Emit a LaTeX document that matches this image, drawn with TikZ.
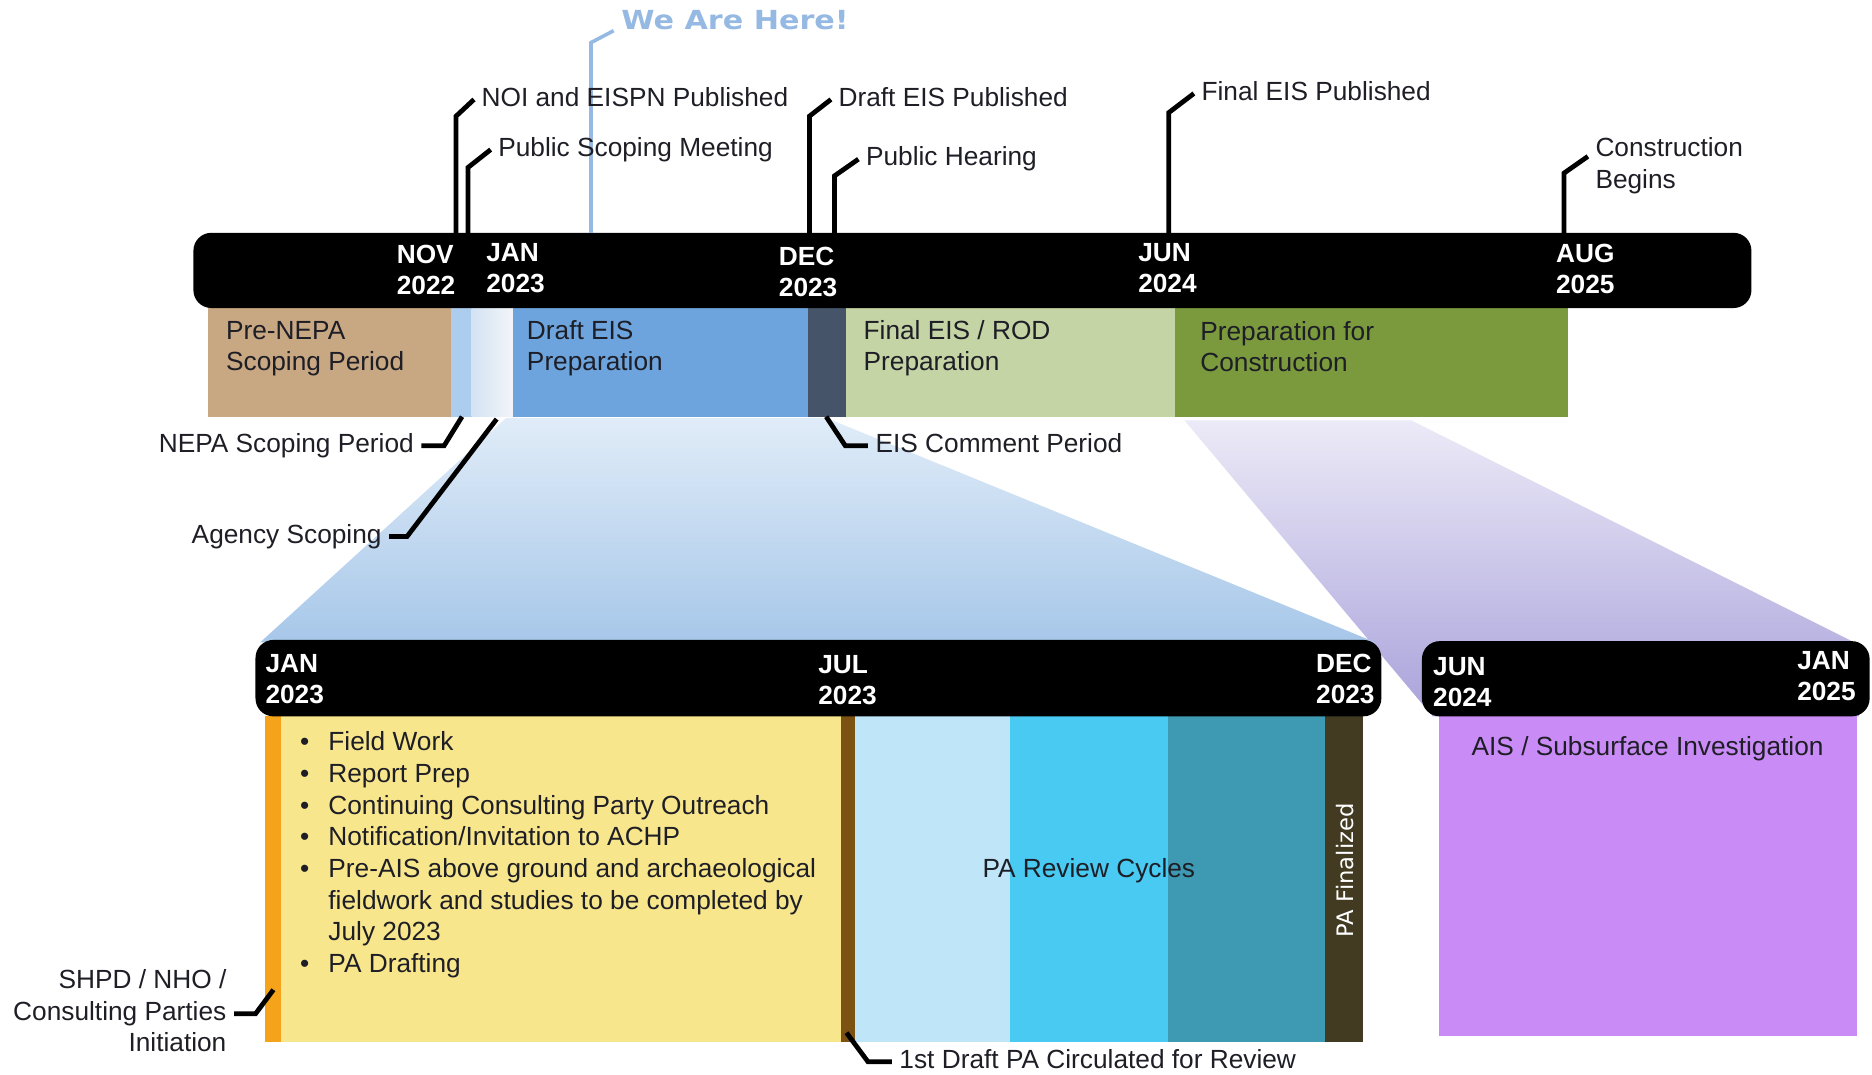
\documentclass[tikz,border=0pt]{standalone}
\usepackage{fontspec}
\setmainfont{Liberation Sans}
\newfontfamily\herefont{DejaVu Sans}[FakeStretch=1.15]
\newfontfamily\dvfont{DejaVu Sans}
\usetikzlibrary{calc}
\definecolor{tanc}{HTML}{C8A783}
\definecolor{nepac}{HTML}{ADCDEF}
\definecolor{agl}{HTML}{D3E3F3}
\definecolor{agr}{HTML}{F3F5F8}
\definecolor{draftc}{HTML}{6EA4DD}
\definecolor{commc}{HTML}{46546A}
\definecolor{finalc}{HTML}{C4D4A4}
\definecolor{prepc}{HTML}{7B9A3E}
\definecolor{bluetop}{HTML}{E0ECF8}
\definecolor{bluebot}{HTML}{A7C7E9}
\definecolor{purtop}{HTML}{ECEAF7}
\definecolor{purbot}{HTML}{A9A2DB}
\definecolor{orangec}{HTML}{F5A31A}
\definecolor{yellowc}{HTML}{F8E68C}
\definecolor{brownc}{HTML}{7B5212}
\definecolor{lbluec}{HTML}{BEE5F8}
\definecolor{cyanc}{HTML}{48CAF2}
\definecolor{tealc}{HTML}{3E9AB3}
\definecolor{olivec}{HTML}{423B22}
\definecolor{purplec}{HTML}{C98BF5}
\definecolor{herec}{HTML}{95B9E3}
\definecolor{txtc}{HTML}{1E1E26}
\newcommand\twoln[2]{\begin{tabular}[t]{@{}l@{}}#1\\#2\end{tabular}}
\newcommand\twolnr[3]{\begin{tabular}[t]{@{}r@{}}#1\\#2\\#3\end{tabular}}
\begin{document}
\begin{tikzpicture}[x=0.5pt,y=-0.5pt,
  leader/.style={line width=2pt, black},
  hereline/.style={line width=1.5pt, herec},
  lbl/.style={font=\fontsize{11}{13.25}\selectfont, text=txtc, inner xsep=3pt, inner ysep=0pt, text height=8pt, text depth=2.3pt},
  mlbl/.style={font=\fontsize{11}{13.25}\selectfont, text=txtc, inner xsep=3pt, inner ysep=0pt},
  datelbl/.style={font=\bfseries\fontsize{11}{13}\selectfont, text=white, inner sep=0pt, anchor=base west},
  barshape/.style={fill=black, rounded corners=7.5pt}]
\useasboundingbox (0,0) rectangle (1568,900.4);

% fans
\shade[top color=purtop, bottom color=purbot] (992,352) -- (1182,352) -- (1557,540) -- (1557,600) -- (1200,600) -- cycle;
\shade[top color=bluetop, bottom color=bluebot] (424,350) -- (692,350) -- (1152,538) -- (218,538) -- cycle;

% top row blocks
\fill[tanc] (174,258) rectangle (378,349);
\fill[nepac] (378,258) rectangle (395,349);
\shade[left color=agl, right color=agr] (395,258) rectangle (430,349);
\fill[draftc] (430,258) rectangle (677,349);
\fill[commc] (677,258) rectangle (709,349);
\fill[finalc] (709,258) rectangle (984,349);
\fill[prepc] (984,258) rectangle (1313,349);

% top bar
\fill[barshape] (162,195) rectangle (1467,258);
\node[datelbl] (dnov) at (332,221) {\twoln{NOV}{2022}};
\node[datelbl] (djan) at (407,219) {\twoln{JAN}{2023}};
\node[datelbl] (ddec) at (652,222) {\twoln{DEC}{2023}};
\node[datelbl] (djun) at (953,219) {\twoln{JUN}{2024}};
\node[datelbl] (daug) at (1303,220) {\twoln{AUG}{2025}};

% lower blocks
\fill[orangec] (222,600) rectangle (235,873);
\fill[yellowc] (235,600) rectangle (704,873);
\fill[brownc] (704,600) rectangle (716,873);
\fill[lbluec] (716,600) rectangle (846,873);
\fill[cyanc] (846,600) rectangle (978,873);
\fill[tealc] (978,600) rectangle (1110,873);
\fill[olivec] (1110,600) rectangle (1142,873);
\fill[purplec] (1205,600) rectangle (1555,868);

% lower bars
\fill[barshape] (214,536) rectangle (1157,600);
\fill[barshape] (1191,537) rectangle (1566,600);
\node[datelbl] (bjan) at (222,563) {\twoln{JAN}{2023}};
\node[datelbl] (bjul) at (685,564) {\twoln{JUL}{2023}};
\node[datelbl] (bdec) at (1102,563) {\twoln{DEC}{2023}};
\node[datelbl] (bjun) at (1200,566) {\twoln{JUN}{2024}};
\node[datelbl] (bjan2) at (1505,561) {\twoln{JAN}{2025}};

% block labels
\node[mlbl, anchor=base west, inner sep=0pt] (tpre) at (189,284) {\twoln{Pre-NEPA}{Scoping Period}};
\node[mlbl, anchor=base west, inner sep=0pt] (tdraft) at (441,284) {\twoln{Draft EIS}{Preparation}};
\node[mlbl, anchor=base west, inner sep=0pt] (tfinal) at (723,284) {\twoln{Final EIS / ROD}{Preparation}};
\node[mlbl, anchor=base west, inner sep=0pt] (tprep) at (1005,285) {\twoln{Preparation for}{Construction}};

% We are here
\node[anchor=base west, inner xsep=3pt, inner ysep=0pt, text=herec, font=\herefont\bfseries\fontsize{11}{13}\selectfont] (here) at (514,25) {We Are Here!};
\coordinate (hereF) at (495,195);
\draw[hereline] (hereF) -- ($(hereF |- here.south west)+(0,10)$) -- (here.south west);

% milestones above
\node[lbl, anchor=base west] (noi) at (397,89) {NOI and EISPN Published};
\node[lbl, anchor=base west] (psm) at (411,131) {Public Scoping Meeting};
\node[lbl, anchor=base west] (deis) at (696,89) {Draft EIS Published};
\node[lbl, anchor=base west] (ph) at (719,139) {Public Hearing};
\node[lbl, anchor=base west] (feis) at (1000,84) {Final EIS Published};
\node[mlbl, anchor=base west] (cb) at (1330,131) {\twoln{Construction}{Begins}};

\coordinate (noiF) at (382,195);
\coordinate (psmF) at (392,195);
\coordinate (deisF) at (678,195);
\coordinate (phF) at (699,195);
\coordinate (feisF) at (979,195);
\coordinate (cbF) at (1310,195);
\draw[leader] (noiF) -- ($(noiF |- noi.west)+(0,14)$) -- (noi.west);
\draw[leader] (psmF) -- ($(psmF |- psm.west)+(0,15)$) -- (psm.west);
\draw[leader] (deisF) -- ($(deisF |- deis.west)+(0,14)$) -- (deis.west);
\draw[leader] (phF) -- ($(phF |- ph.west)+(0,14)$) -- (ph.west);
\draw[leader] (feisF) -- ($(feisF |- feis.west)+(0,16)$) -- (feis.west);
\draw[leader] (cbF) -- ($(cbF |- cb.base west)+(0,14)$) -- (cb.base west);

% leaders below top row
\node[lbl, anchor=base east] (nepa) at (353,379) {NEPA Scoping Period};
\node[lbl, anchor=base east] (agency) at (326,455) {Agency Scoping};
\node[lbl, anchor=base west] (eisc) at (727,379) {EIS Comment Period};
\coordinate (nepaF) at (387,349);
\coordinate (agencyF) at (416,351);
\coordinate (eiscF) at (692,349);
\draw[leader] (nepaF) -- ($(nepa.east)+(19,0)$) -- (nepa.east);
\draw[leader] (agencyF) -- ($(agency.east)+(15,0)$) -- (agency.east);
\draw[leader] (eiscF) -- ($(eisc.west)+(-19,0)$) -- (eisc.west);

% lower labels
\node[anchor=base west, inner sep=0pt, font=\fontsize{11}{13.25}\selectfont, text=txtc] (bul) at (251,629) {\begin{tabular}[t]{@{}l@{\hspace{8pt}}l@{}}
\textbullet & Field Work\\
\textbullet & Report Prep\\
\textbullet & Continuing Consulting Party Outreach\\
\textbullet & Notification/Invitation to ACHP\\
\textbullet & Pre-AIS above ground and archaeological\\
 & fieldwork and studies to be completed by\\
 & July 2023\\
\textbullet & PA Drafting
\end{tabular}};
\node[lbl, anchor=base] (parev) at (912,735) {PA Review Cycles};
\node[lbl, anchor=base] (ais) at (1380,633) {AIS / Subsurface Investigation};
\node[rotate=90, text=white, inner sep=0pt, font=\dvfont\fontsize{9.5}{11}\selectfont] (paf) at (1127,729) {PA Finalized};

\node[mlbl, anchor=base east] (shpd) at (196,828) {\twolnr{SHPD / NHO /}{Consulting Parties}{Initiation}};
\node[lbl, anchor=base west] (dpa) at (747,895) {1st Draft PA Circulated for Review};
\coordinate (shpdF) at (229,829);
\coordinate (dpaF) at (709,865);
\draw[leader] (shpdF) -- ($(shpd.east)+(18,0)$) -- (shpd.east);
\draw[leader] (dpaF) -- ($(dpa.west)+(-20,0)$) -- (dpa.west);
\end{tikzpicture}
\end{document}
